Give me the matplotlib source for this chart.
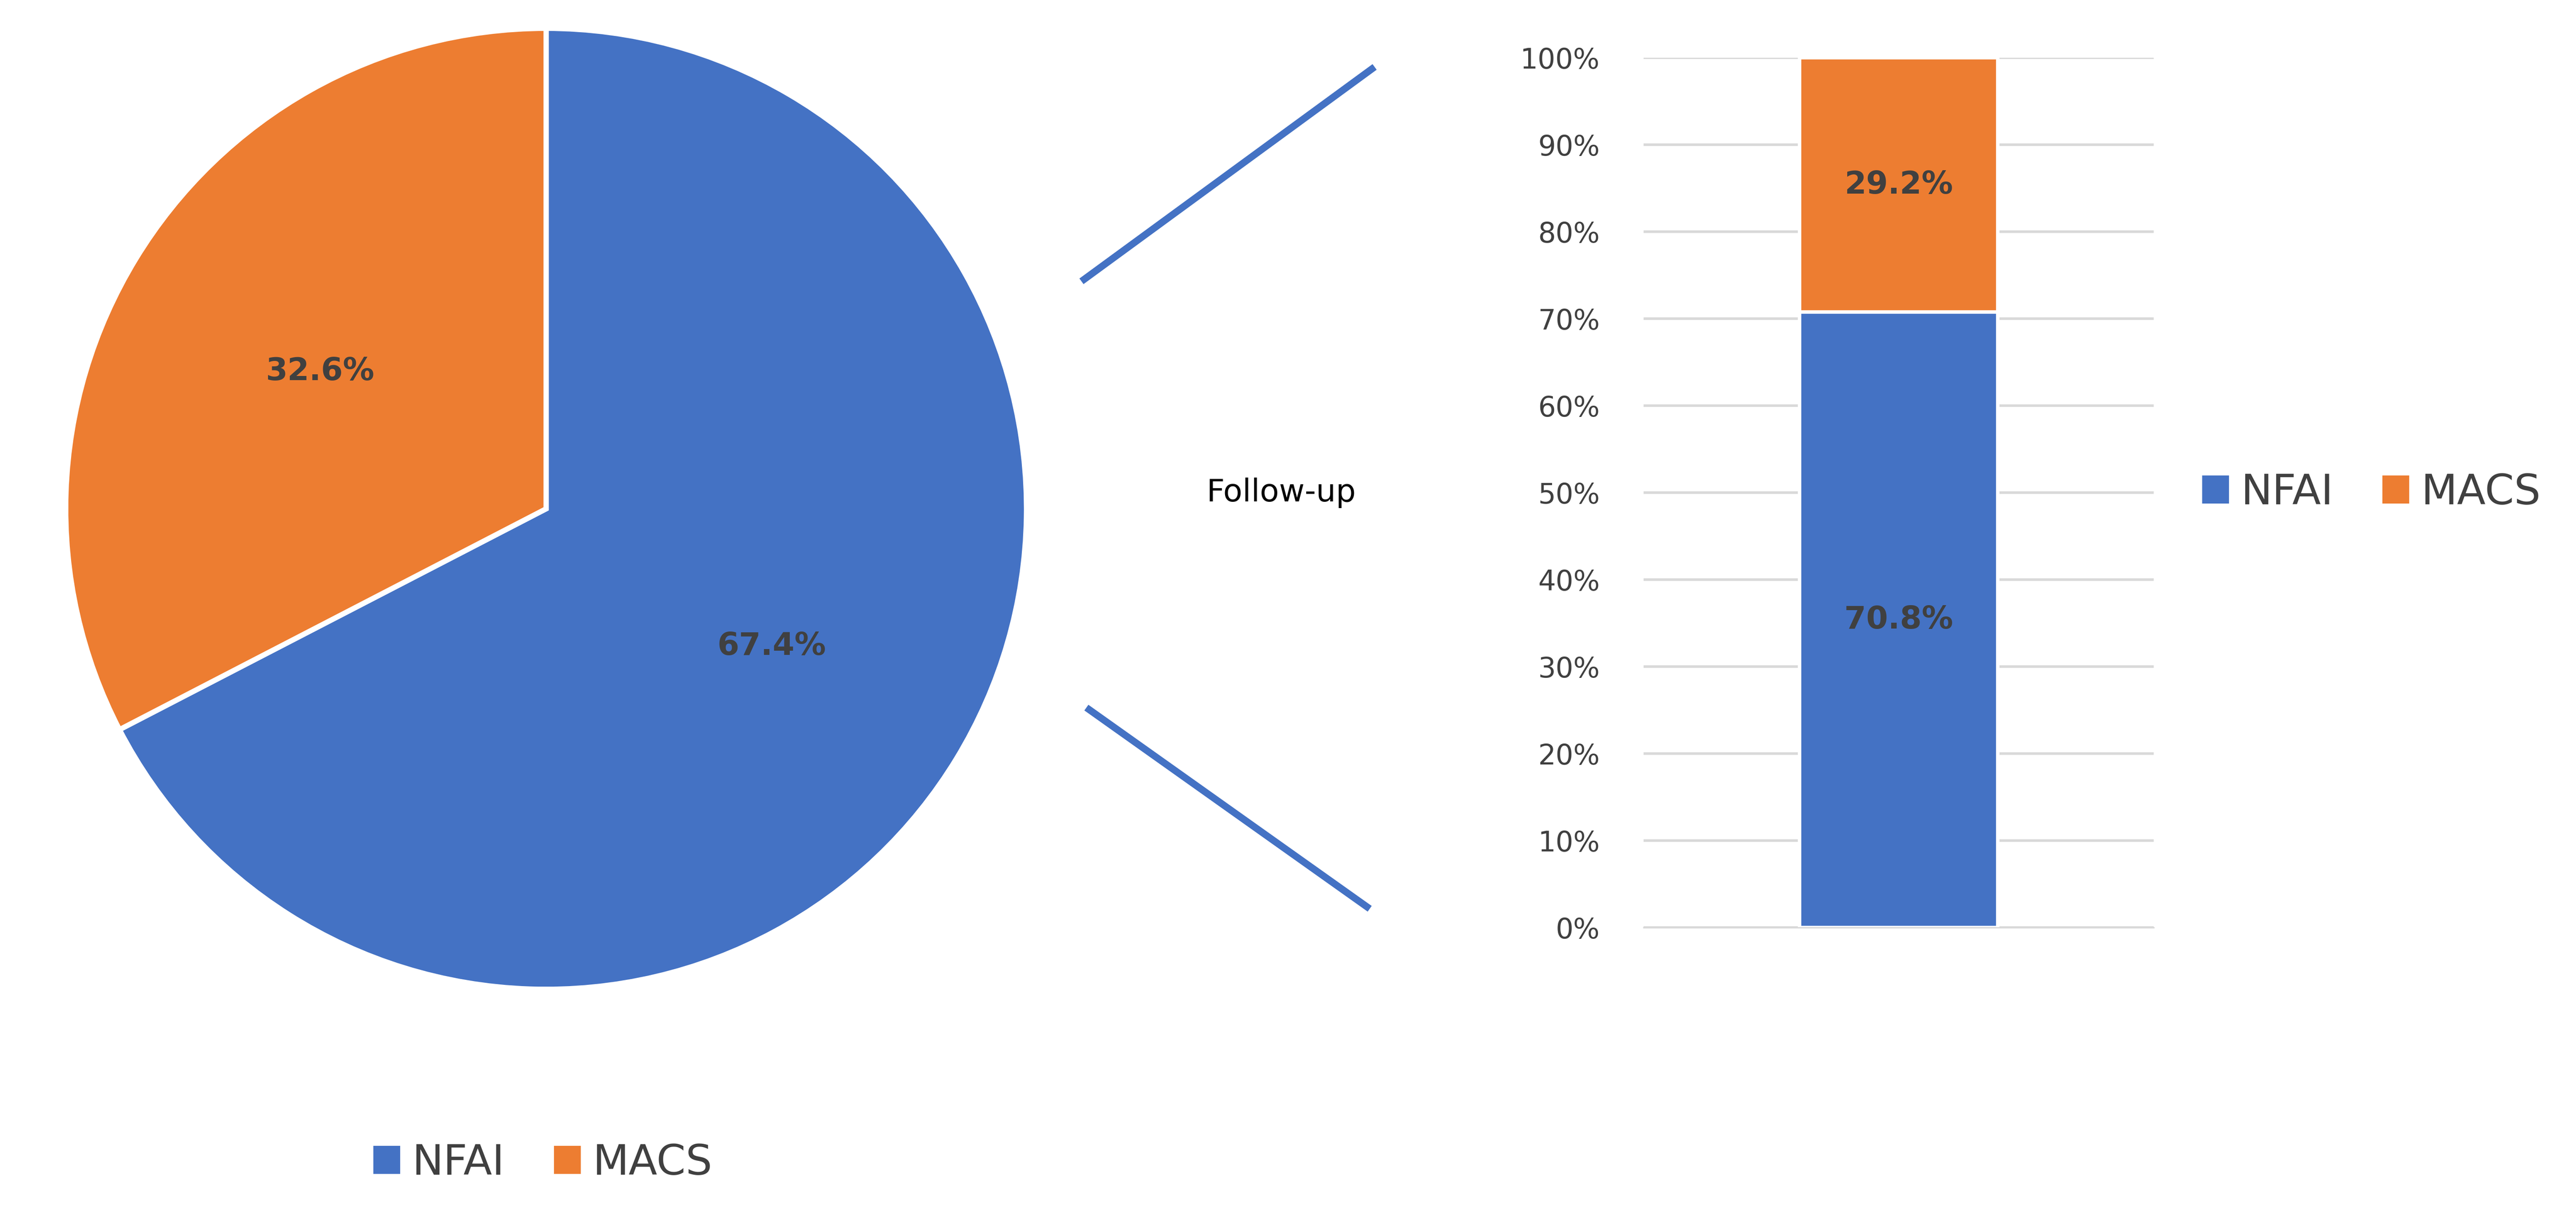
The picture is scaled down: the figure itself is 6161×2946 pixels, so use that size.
import numpy as np
import matplotlib.pyplot as plt
from matplotlib.lines import Line2D
from matplotlib.patches import Patch

# --- Data ---
groups = ["NFAI", "MACS"]
baseline_pct = [67.4, 32.6]
followup_pct = [70.8, 29.2]
bar_label = "Follow-up"
colors = ["#4472C4", "#ED7D31"]
text_color = "#404040"

W, H = 6161, 2946
fig = plt.figure(figsize=(W / 300, H / 300), dpi=300)

# Pie
r = 0.39
pw = 2 * r * H / W
ax_pie = fig.add_axes([0.212 - pw / 2, 0.587 - r, pw, 2 * r])
wedges, texts = ax_pie.pie(baseline_pct, colors=colors, startangle=90, counterclock=False,
                           wedgeprops=dict(edgecolor="white", linewidth=3))
ax_pie.set_aspect("equal")
ax_pie.set_xlim(-1, 1)
ax_pie.set_ylim(-1, 1)
for w, v in zip(wedges, baseline_pct):
    ang = np.deg2rad((w.theta1 + w.theta2) / 2)
    ax_pie.text(0.55 * np.cos(ang), 0.55 * np.sin(ang), f"{v}%", ha="center", va="center",
                fontsize=18, fontweight="bold", color=text_color)

# Stacked bar
ax_bar = fig.add_axes([0.638, 0.247, 0.198, 0.706])
ax_bar.bar([0], [followup_pct[0]], width=0.8, color=colors[0], edgecolor="white", linewidth=2)
ax_bar.bar([0], [followup_pct[1]], bottom=[followup_pct[0]], width=0.8, color=colors[1],
           edgecolor="white", linewidth=2)
ax_bar.text(0, followup_pct[0] / 2, f"{followup_pct[0]}%", ha="center", va="center",
            fontsize=18, fontweight="bold", color=text_color)
ax_bar.text(0, followup_pct[0] + followup_pct[1] / 2, f"{followup_pct[1]}%", ha="center",
            va="center", fontsize=18, fontweight="bold", color=text_color)
ax_bar.set_xlim(-1.03, 1.03)
ax_bar.set_ylim(0, 100)
ax_bar.set_yticks(range(0, 101, 10))
ax_bar.set_yticklabels([f"{t}%" for t in range(0, 101, 10)], fontsize=16, color=text_color)
ax_bar.set_xticks([])
ax_bar.grid(axis="y", color="#D9D9D9", linewidth=1.5)
ax_bar.set_axisbelow(True)
for s in ax_bar.spines.values():
    s.set_visible(False)
ax_bar.spines["bottom"].set_visible(True)
ax_bar.spines["bottom"].set_color("#D9D9D9")
ax_bar.tick_params(axis="y", length=0, pad=25)

# Connector lines
fig.add_artist(Line2D([660 / 1568, 835 / 1568], [1 - 170 / 750, 1 - 42 / 750], color=colors[0], linewidth=4))
fig.add_artist(Line2D([663 / 1568, 832 / 1568], [1 - 432 / 750, 1 - 552 / 750], color=colors[0], linewidth=4))
fig.text(780 / 1568, 1 - 300 / 750, bar_label, ha="center", va="center", fontsize=18, color="black")

handles = [Patch(color=c, label=g) for c, g in zip(colors, groups)]
fig.legend(handles=handles, loc="center left", bbox_to_anchor=(1318 / 1568, 1 - 300 / 750), ncol=2,
           frameon=False, fontsize=24, handlelength=0.6, handleheight=0.6, handletextpad=0.3,
           columnspacing=1.2, labelcolor=text_color)
fig.legend(handles=handles, loc="center left", bbox_to_anchor=(205 / 1568, 1 - 708 / 750), ncol=2,
           frameon=False, fontsize=24, handlelength=0.6, handleheight=0.6, handletextpad=0.3,
           columnspacing=1.2, labelcolor=text_color)

fig.savefig("out.png", dpi=300)
